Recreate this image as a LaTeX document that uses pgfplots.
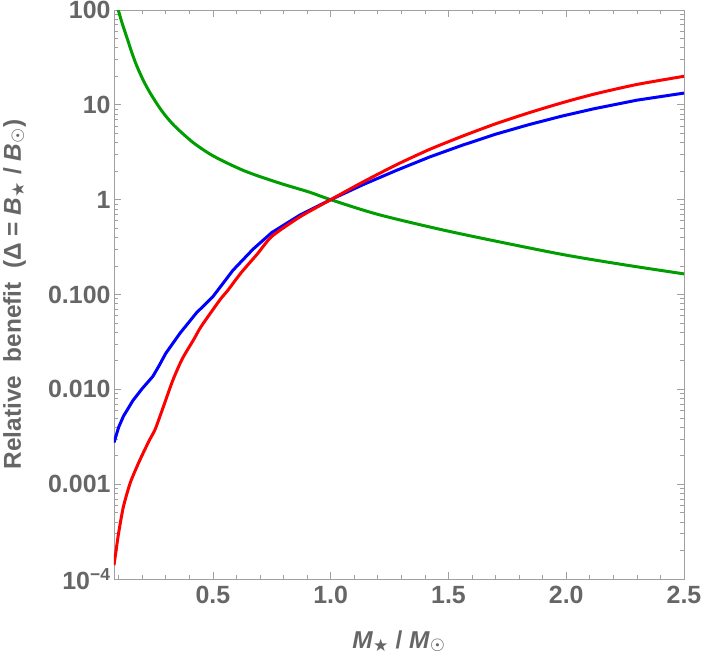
\documentclass[border=0pt]{standalone}
\usepackage{pgfplots}
\pgfplotsset{compat=1.18}
\usepackage{fontspec}
\setmainfont{Liberation Sans}
\newfontfamily\dejavu{DejaVu Sans}
\definecolor{framegray}{HTML}{A0A0A0}
\definecolor{labelgray}{HTML}{666666}
\definecolor{mgreen}{rgb}{0,0.62,0}
\newcommand{\sstar}{\textsubscript{\dejavu\bfseries ★}}
\newcommand{\ssun}{\textsubscript{\dejavu\bfseries ☉}}

\pgfplotstableread{
x y
0.08 140
0.098 100
0.115 72
0.134 52
0.155 36
0.176 26
0.205 18
0.233 13.4
0.275 9.2
0.31 7.1
0.346 5.7
0.416 4.0
0.49 3.0
0.558 2.45
0.63 2.03
0.70 1.75
0.80 1.45
0.91 1.2
1.0 1.0
1.2 0.70
1.475 0.48
1.75 0.345
2.0 0.26
2.25 0.205
2.5 0.165
}\green

\pgfplotstableread{
x y
0.08 0.00275
0.10 0.0040
0.12 0.0052
0.16 0.0076
0.20 0.0102
0.245 0.0137
0.27 0.0175
0.30 0.024
0.36 0.039
0.43 0.064
0.50 0.095
0.585 0.18
0.67 0.30
0.75 0.45
0.87 0.69
1.0 1.0
1.14 1.45
1.28 2.04
1.42 2.82
1.56 3.76
1.70 4.9
1.84 6.17
1.98 7.59
2.12 9.12
2.30 11.2
2.5 13.3
}\blue

\pgfplotstableread{
x y
0.08 0.00014
0.09 0.00021
0.10 0.00031
0.12 0.00058
0.15 0.00105
0.19 0.0018
0.23 0.0029
0.255 0.0038
0.29 0.0066
0.33 0.0125
0.37 0.021
0.42 0.034
0.45 0.046
0.53 0.088
0.56 0.108
0.62 0.17
0.69 0.27
0.75 0.41
0.87 0.66
1.0 1.0
1.14 1.55
1.28 2.34
1.42 3.39
1.56 4.68
1.70 6.31
1.84 8.22
1.98 10.47
2.12 13.0
2.30 16.4
2.5 20.0
}\red

\begin{document}
\begin{tikzpicture}
\path[use as bounding box] (-114bp,-81bp) rectangle (588bp,579bp);
\begin{axis}[
  at={(0,0)}, anchor=south west,
  scale only axis, width=570bp, height=569bp,
  ymode=log, xmin=0.08, xmax=2.5, ymin=1e-4, ymax=100,
  axis line style={framegray, line width=0.9bp},
  tick style={framegray, line width=0.7bp},
  major tick length=7bp, minor tick length=4bp,
  tick align=inside,
  xtick={0.5,1,1.5,2,2.5},
  xticklabels={0.5,1.0,1.5,2.0,2.5},
  minor xtick={0.1,0.2,0.3,0.4,0.6,0.7,0.8,0.9,1.1,1.2,1.3,1.4,1.6,1.7,1.8,1.9,2.1,2.2,2.3,2.4},
  ytick={1e-4,1e-3,1e-2,1e-1,1,10,100},
  yticklabels={10\textsuperscript{−4},0.001,0.010,0.100,1,10,100},
  minor ytick={2e-4,3e-4,4e-4,5e-4,6e-4,7e-4,8e-4,9e-4,
    2e-3,3e-3,4e-3,5e-3,6e-3,7e-3,8e-3,9e-3,
    2e-2,3e-2,4e-2,5e-2,6e-2,7e-2,8e-2,9e-2,
    0.2,0.3,0.4,0.5,0.6,0.7,0.8,0.9,
    2,3,4,5,6,7,8,9,20,30,40,50,60,70,80,90},
  ticklabel style={font=\fontsize{25}{30}\selectfont\bfseries, text=labelgray},
  xticklabel style={yshift=-4bp},
  /pgf/number format/assume math mode=true,
  every axis y label/.style={at={([xshift=-111bp]axis description cs:0,0.5)}, rotate=90, anchor=north, inner sep=0pt},
  every axis x label/.style={at={([yshift=-69bp]axis description cs:0.5,0)}, anchor=base, inner sep=0pt},
  label style={font=\fontsize{24.5}{28}\selectfont\bfseries, text=labelgray},
  ylabel={Relative\ \ benefit\ \ (Δ = \textit{B}\sstar\ / \textit{B}\ssun)},
  xlabel={\textit{M}\sstar\ / \textit{M}\ssun},
]
\addplot[mgreen, line width=3bp, smooth, tension=0.5] table {\green};
\addplot[blue, line width=3bp] table {\blue};
\addplot[red, line width=3bp, smooth, tension=0.4] table {\red};
\end{axis}
\end{tikzpicture}
\end{document}
